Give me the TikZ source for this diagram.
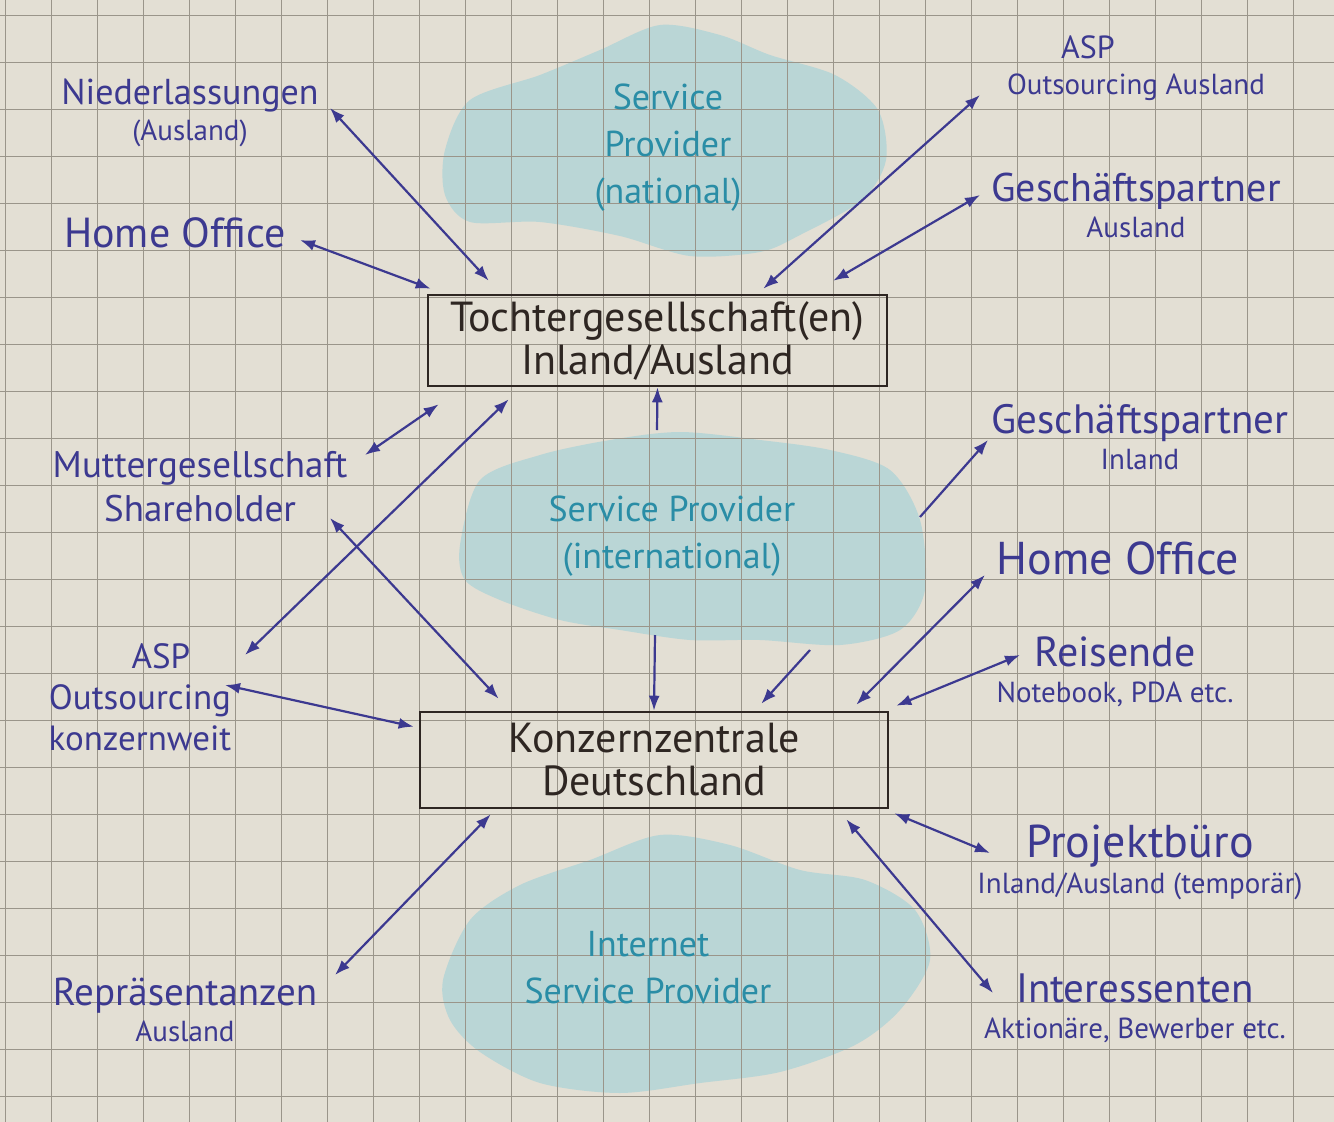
\documentclass[tikz,border=0pt]{standalone}
\usepackage{fontspec}
\setmainfont{PT Sans}
\usetikzlibrary{arrows.meta}
\definecolor{paper}{HTML}{E3DFD4}
\definecolor{gridline}{HTML}{9A958A}
\definecolor{wash}{HTML}{BAD6D6}
\definecolor{cyanink}{HTML}{2A8DA6}
\definecolor{ink}{HTML}{3C3990}
\definecolor{pen}{HTML}{2E2622}
\newcommand{\kl}[1]{{\fontsize{29}{32}\selectfont #1}}
\newcommand{\fs}[1]{\fontsize{#1}{36}\selectfont}

\begin{document}
\begin{tikzpicture}[x=1pt,y=-1pt,
  lab/.style={text=ink,font=\fs{40},align=center,inner sep=0pt},
  box/.style={draw=pen,line width=2.6pt,text=pen,font=\fontsize{42}{43}\selectfont,align=center},
  sp/.style={text=cyanink,font=\fontsize{36}{47}\selectfont,align=center},
  arr/.style={ink,line width=2.2pt,<->,>={Latex[length=15pt,width=11pt]}},
  one/.style={ink,line width=2.2pt,->,>={Latex[length=15pt,width=11pt]}}]
\useasboundingbox (0,0) rectangle (1334,1122);
\fill[paper] (0,0) rectangle (1334,1122);
\fill[wash] plot[smooth cycle] coordinates {(445,150) (470,100) (540,75) (600,50) (660,25) (720,35) (770,55) (835,75) (878,110) (886,160) (862,200) (800,235) (760,252) (690,256) (620,236) (540,222) (470,222) (445,195)};
\fill[wash] plot[smooth cycle] coordinates {(460,545) (480,480) (540,455) (610,440) (680,432) (760,440) (830,450) (890,470) (920,520) (925,590) (900,630) (840,645) (760,640) (690,640) (620,630) (560,620) (500,600) (465,580)};
\fill[wash] plot[smooth cycle] coordinates {(443,980) (470,920) (520,885) (590,860) (660,835) (730,845) (800,870) (865,880) (915,910) (930,960) (900,1010) (855,1045) (780,1072) (700,1083) (620,1093) (540,1083) (480,1052) (450,1020)};
\foreach \x in {0,...,28}{\draw[gridline,line width=0.9pt] (5+46*\x,0)--(5+46*\x,1122);}
\foreach \y in {0,...,23}{\draw[gridline,line width=0.9pt] (0,15+47*\y)--(1334,15+47*\y);}
\node[box,minimum width=459,minimum height=91] (tochter) at (657.5,340.5) {Tochtergesellschaft(en)\\Inland/Ausland};
\node[box,minimum width=468,minimum height=96] (konzern) at (654,760) {Konzernzentrale\\Deutschland};
\node[sp] (spnat) at (668,148) {Service\\Provider\\(national)};
\node[sp] (spint) at (672,536) {Service Provider\\(international)};
\node[sp] (isp) at (648,968) {Internet\\Service Provider};
\node[lab,font=\fs{36}] (niederl) at (190,113) {Niederlassungen\\\kl{(Ausland)}};
\node[lab,font=\fs{42}] (homel) at (175,233) {Home Office};
\node[lab,font=\fontsize{37}{44}\selectfont] (mutter) at (200,487) {Muttergesellschaft\\Shareholder};
\node[lab,font=\fontsize{35}{41}\selectfont] (aspl) at (140,697) {\hspace*{42pt}ASP\\Outsourcing\\konzernweit};
\node[lab,font=\fs{39}] (repr) at (185,1010) {Repräsentanzen\\\kl{Ausland}};
\node[lab,font=\fs{32}] (aspr) at (1136,68) {ASP\hspace*{96pt}\\\kl{Outsourcing Ausland}};
\node[lab,font=\fs{40}] (gpaus) at (1136,205) {Geschäftspartner\\\kl{Ausland}};
\node[lab,font=\fs{41}] (gpin) at (1140,437) {Geschäftspartner\\\kl{Inland}};
\node[lab,font=\fs{46}] (homer) at (1118,558) {Home Office};
\node[lab,font=\fs{42}] (reis) at (1115,672) {Reisende\\\kl{Notebook, PDA etc.}};
\node[lab,font=\fs{46}] (proj) at (1140,862) {Projektbüro\\\kl{Inland/Ausland (temporär)}};
\node[lab,font=\fs{41}] (inter) at (1135,1008) {Interessenten\\\kl{Aktionäre, Bewerber etc.}};
\coordinate (spup) at (657,430); \coordinate (spdown) at (655,635);
\coordinate (spdiag) at (810,650); \coordinate (gpfoot) at (920,517);
\draw[arr] ([xshift=140,yshift=5]niederl.center) -- ([xshift=62,yshift=13]tochter.north west);
\draw[arr] ([xshift=125,yshift=-7]homel.center) -- ([xshift=4,yshift=5]tochter.north west);
\draw[arr] ([xshift=-156,yshift=-27]aspr.center) -- ([xshift=-125,yshift=5]tochter.north east);
\draw[arr] ([xshift=-156,yshift=10]gpaus.center) -- ([xshift=-55,yshift=13]tochter.north east);
\draw[arr] ([xshift=165,yshift=32]mutter.center) -- ([xshift=12,yshift=-17]tochter.south west);
\draw[arr] ([xshift=105,yshift=42]aspl.center) -- ([xshift=82,yshift=-12]tochter.south west);
\draw[arr] ([xshift=130,yshift=-31]mutter.center) -- ([xshift=80,yshift=12]konzern.north west);
\draw[arr] ([xshift=85,yshift=12]aspl.center) -- ([xshift=-5,yshift=-16]konzern.north west);
\draw[arr] ([xshift=150,yshift=35]repr.center) -- ([xshift=72,yshift=-5]konzern.south west);
\draw[one] (spup) -- (tochter.south); \draw[one] (spdown) -- (konzern.north);
\draw[one] (spdiag) -- ([xshift=-128,yshift=7]konzern.north east);
\draw[one] (gpfoot) -- ([xshift=-152,yshift=-3]gpin.center);
\draw[arr] ([xshift=-133,yshift=-17]homer.center) -- ([xshift=-33,yshift=6]konzern.north east);
\draw[arr] ([xshift=-95,yshift=17]reis.center) -- ([xshift=7,yshift=5]konzern.north east);
\draw[arr] ([xshift=-150,yshift=9]proj.center) -- ([xshift=5,yshift=-4]konzern.south east);
\draw[arr] ([xshift=-142,yshift=15]inter.center) -- ([xshift=-43,yshift=-10]konzern.south east);
\end{tikzpicture}
\end{document}
